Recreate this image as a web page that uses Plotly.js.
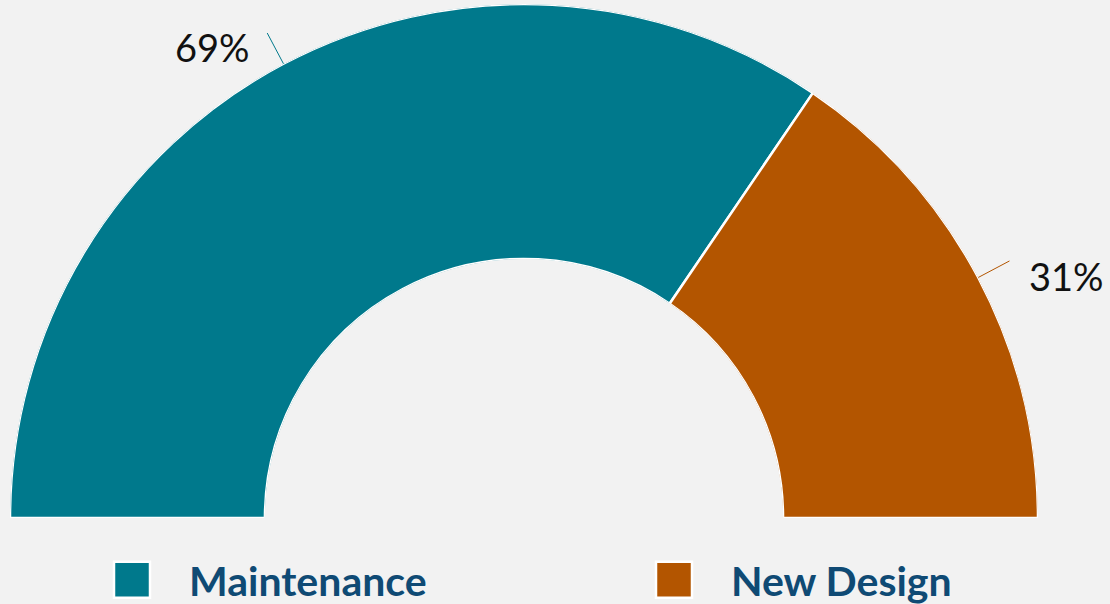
<!DOCTYPE html>
<html>
<head>
<meta charset="utf-8">
<script src="https://cdn.plot.ly/plotly-3.0.1.min.js"></script>
<style>
  html, body { margin: 0; padding: 0; background: #f2f2f2; overflow: hidden; }
  #plot { width: 1250px; height: 604px; }
</style>
</head>
<body>
<div id="plot"></div>
<script>
// share of work, percent
const labels = ['Maintenance', 'New Design'];
const values = [69, 31];
const colors = ['#00798c', '#b35500'];

// the page is 1110 wide; the plot is a bit wider so the legend row is not pushed back
const W = 1250, H = 604;
const domX = [10 / W, 1038 / W];
const domY = [1 - 518 / H, 1 - 4 / H];
const hole = 0.504;

// half circle: 100% spans 180 degrees, starting at 9 o'clock going clockwise
const total = values.reduce((a, b) => a + b, 0);
let cum = 0;
const traces = [];
const mids = [];
values.forEach((v, i) => {
    const span = v / total * 180;
    const mid = cum + span / 2;
    mids.push(mid);
    traces.push({
        type: 'barpolar',
        name: labels[i],
        r: [1],
        theta: [mid],
        width: [span],
        marker: { color: colors[i], line: { color: '#ffffff', width: 2.5 } },
        hoverinfo: 'name'
    });
    cum += span;
});

// leader lines and percent labels, placed from the slice middles
const cx = (domX[0] + domX[1]) / 2 * W;
const cy = (1 - domY[0]) * H;
const R = (domX[1] - domX[0]) * W / 2;
const lead = 37;
const annotations = [];
mids.forEach((a, i) => {
    const rad = a * Math.PI / 180;
    const dx = -Math.cos(rad), dy = -Math.sin(rad);
    const px = cx + R * dx, py = cy + R * dy;
    const tx = cx + (R + lead) * dx, ty = cy + (R + lead) * dy;
    annotations.push({
        xref: 'paper', yref: 'paper',
        x: px / W, y: 1 - py / H,
        ax: lead * dx, ay: lead * dy,
        text: ' ', font: { size: 1 },
        showarrow: true, arrowhead: 0, arrowwidth: 1, arrowcolor: colors[i]
    });
    annotations.push({
        xref: 'paper', yref: 'paper',
        x: tx / W, y: 1 - ty / H,
        xanchor: dx < 0 ? 'right' : 'left',
        yanchor: 'middle',
        xshift: dx < 0 ? -14 : 16,
        yshift: -16,
        text: Math.round(values[i] / total * 100) + '%',
        showarrow: false,
        font: { family: 'Lato, sans-serif', size: 38, color: '#111111' }
    });
});

const layout = {
    width: W,
    height: H,
    margin: { l: 0, r: 0, t: 0, b: 0, autoexpand: false },
    paper_bgcolor: '#f2f2f2',
    plot_bgcolor: '#f2f2f2',
    font: { family: 'Lato, sans-serif' },
    polar: {
        domain: { x: domX, y: domY },
        sector: [0, 180],
        hole: hole,
        bargap: 0,
        bgcolor: 'rgba(0,0,0,0)',
        radialaxis: { range: [0, 1], visible: false, showgrid: false, showline: false, showticklabels: false, ticks: '' },
        angularaxis: { direction: 'clockwise', rotation: 180, visible: false, showgrid: false, showline: false, showticklabels: false, ticks: '' }
    },
    showlegend: true,
    legend: {
        orientation: 'h',
        x: 75 / W,
        xanchor: 'left',
        y: 1 - 580 / H,
        yanchor: 'middle',
        entrywidth: 423,
        entrywidthmode: 'pixels',
        itemwidth: 104,
        bgcolor: 'rgba(0,0,0,0)',
        font: { family: 'Lato, sans-serif', size: 41, color: '#0f4a74', weight: 'bold' }
    },
    annotations: annotations
};

Plotly.newPlot('plot', traces, layout, { displayModeBar: false, staticPlot: true }).then(gd => {
    // bigger legend squares
    gd.querySelectorAll('.legend .legendpoints path').forEach(p => {
        p.setAttribute('d', 'M18,18H-18V-18H18Z');
    });
});
</script>
</body>
</html>
